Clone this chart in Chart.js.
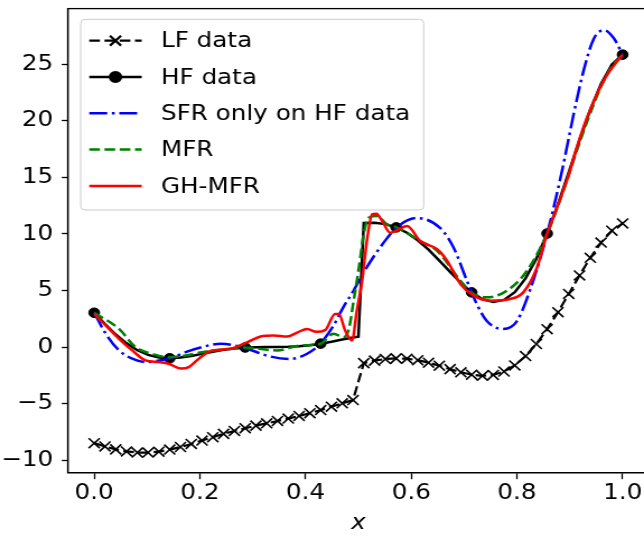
<!DOCTYPE html>
<html>
<head>
<meta charset="utf-8">
<script src="https://cdn.jsdelivr.net/npm/chart.js@4.4.1/dist/chart.umd.min.js"></script>
<style>
  html, body { margin: 0; padding: 0; background: #fff; overflow: hidden; }
  /* the reference picture is wider than it is tall by ~12%, text included */
  #wrap { width: 600px; height: 538px; transform: scaleX(1.12); transform-origin: 0 0; }
</style>
</head>
<body>
<div id="wrap"><canvas id="chart" width="600" height="538"></canvas></div>
<script>
// LF grid (50 samples on [0, 1])
const lfX = [0, 0.0204, 0.0408, 0.0612, 0.0816, 0.1020, 0.1224, 0.1429, 0.1633, 0.1837,
  0.2041, 0.2245, 0.2449, 0.2653, 0.2857, 0.3061, 0.3265, 0.3469, 0.3673, 0.3878,
  0.4082, 0.4286, 0.4490, 0.4694, 0.4898, 0.5102, 0.5306, 0.5510, 0.5714, 0.5918,
  0.6122, 0.6327, 0.6531, 0.6735, 0.6939, 0.7143, 0.7347, 0.7551, 0.7755, 0.7959,
  0.8163, 0.8367, 0.8571, 0.8776, 0.8980, 0.9184, 0.9388, 0.9592, 0.9796, 1.0];
const lfY = [-8.49, -8.78, -9.04, -9.22, -9.32, -9.32, -9.24, -9.06, -8.83, -8.56,
  -8.26, -7.96, -7.67, -7.41, -7.17, -6.94, -6.74, -6.53, -6.32, -6.09,
  -5.84, -5.57, -5.27, -4.97, -4.68, -1.42, -1.20, -1.06, -1.00, -1.03,
  -1.16, -1.38, -1.65, -1.95, -2.23, -2.44, -2.54, -2.46, -2.16, -1.62,
  -0.80, 0.27, 1.58, 3.08, 4.69, 6.33, 7.88, 9.23, 10.28, 10.92];

// HF curve (black line), markers only at the HF samples
const hfLineX = [0, 0.0204, 0.0408, 0.0612, 0.0816, 0.1020, 0.1224, 0.1429, 0.1633, 0.1837,
  0.2041, 0.2245, 0.2449, 0.2653, 0.2857, 0.3061, 0.3265, 0.3469, 0.3673, 0.3878,
  0.4082, 0.4286, 0.4490, 0.4694, 0.4898, 0.5, 0.5102, 0.5306, 0.5510, 0.5714, 0.5918,
  0.6122, 0.6327, 0.6531, 0.6735, 0.6939, 0.7143, 0.7347, 0.7551, 0.7755, 0.7959,
  0.8163, 0.8367, 0.8571, 0.8776, 0.8980, 0.9184, 0.9388, 0.9592, 0.9796, 1.0];
const hfLineY = [3.03, 2.03, 1.11, 0.33, -0.28, -0.69, -0.92, -0.99, -0.93, -0.79,
  -0.60, -0.41, -0.25, -0.12, -0.04, -0.01, 0.00, 0.00, 0.02, 0.07,
  0.16, 0.30, 0.47, 0.66, 0.84, 0.91, 10.96, 10.98, 10.86, 10.57, 10.10,
  9.43, 8.60, 7.64, 6.64, 5.66, 4.83, 4.23, 3.98, 4.16, 4.85,
  6.07, 7.81, 10.03, 12.61, 15.43, 18.29, 20.97, 23.27, 24.96, 25.83];
const hfSampleX = [0, 0.1429, 0.2857, 0.4286, 0.5714, 0.7143, 0.8571, 1.0];

// SFR only on HF data (blue dash-dot)
const sfrX = [0, 0.022, 0.047, 0.072, 0.097, 0.122, 0.145, 0.173, 0.204, 0.24,
  0.286, 0.33, 0.37, 0.403, 0.428, 0.453, 0.47, 0.491, 0.51, 0.529,
  0.554, 0.573, 0.611, 0.655, 0.68, 0.705, 0.724, 0.743, 0.772, 0.8,
  0.831, 0.857, 0.885, 0.907, 0.926, 0.945, 0.965, 0.983, 1.0];
const sfrY = [3.03, 1.17, -0.3, -1.03, -1.33, -1.2, -0.98, -0.45, 0.0, 0.3,
  -0.1, -0.8, -1.05, -0.59, 0.3, 1.9, 3.4, 5.0, 6.6, 8.0,
  9.6, 10.6, 11.4, 10.5, 8.8, 5.9, 3.8, 2.3, 1.6, 2.3,
  5.9, 10.0, 15.5, 20.5, 24.4, 27.2, 28.0, 27.3, 25.83];

// MFR (green dashed)
const mfrX = [0, 0.047, 0.078, 0.104, 0.143, 0.173, 0.204, 0.25, 0.286, 0.346,
  0.39, 0.428, 0.453, 0.472, 0.482, 0.491, 0.501, 0.51, 0.519, 0.535,
  0.554, 0.571, 0.617, 0.649, 0.693, 0.714, 0.743, 0.781, 0.819, 0.857,
  0.878, 0.898, 0.918, 0.939, 0.959, 0.98, 1.0];
const mfrY = [3.03, 1.6, 0.0, -0.53, -0.9, -0.74, -0.45, -0.2, -0.05, -0.3,
  0.14, 0.29, 1.17, 0.87, 1.61, 4.1, 7.03, 9.96, 11.42, 11.57,
  10.84, 10.6, 9.37, 8.5, 5.86, 4.8, 4.39, 4.98, 6.74, 10.0,
  12.5, 15.2, 18.0, 20.7, 23.0, 24.8, 25.83];

// GH-MFR (red solid)
const ghX = [0, 0.022, 0.047, 0.072, 0.097, 0.122, 0.141, 0.164, 0.179, 0.198,
  0.223, 0.258, 0.29, 0.315, 0.34, 0.365, 0.385, 0.403, 0.42, 0.437,
  0.456, 0.463, 0.475, 0.488, 0.497, 0.507, 0.516, 0.526, 0.534, 0.545,
  0.56, 0.57, 0.592, 0.617, 0.649, 0.668, 0.693, 0.718, 0.75, 0.787,
  0.812, 0.838, 0.857, 0.878, 0.898, 0.913, 0.932, 0.951, 0.97, 0.989, 1.0];
const ghY = [2.9, 1.9, 0.73, -0.3, -1.18, -1.33, -1.47, -1.9, -1.77, -1.03,
  -0.3, -0.15, 0.43, 0.93, 1.02, 0.93, 1.3, 1.6, 1.35, 1.5,
  2.93, 2.93, 1.46, 0.58, 3.22, 5.86, 9.37, 11.72, 11.78, 11.13,
  10.1, 10.25, 10.69, 9.37, 8.64, 7.62, 5.57, 4.54, 4.1, 4.25,
  4.83, 7.03, 10.0, 12.6, 15.2, 17.6, 20.2, 22.3, 24.0, 25.2, 25.83];

const xTicks = [0, 0.2, 0.4, 0.6, 0.8, 1.0];
const yTicks = [-10, -5, 0, 5, 10, 15, 20, 25];

const FONT = 'DejaVu Sans';
const LW = 2.5;

function pts(xs, ys) {
  return xs.map((x, i) => ({ x, y: ys[i] }));
}

// matplotlib-like legend box in the upper left, plus the full axes frame
const mplDecor = {
  id: 'mplDecor',
  afterDatasetsDraw(chart) {
    const { ctx, chartArea: a } = chart;
    ctx.save();
    ctx.strokeStyle = '#000';
    ctx.lineWidth = 1.3;
    ctx.strokeRect(a.left, a.top, a.right - a.left, a.bottom - a.top);
    ctx.restore();
  },
  afterDraw(chart) {
    const ctx = chart.ctx;
    const sets = chart.data.datasets;
    const left = 72, top = 19.3, bottom = 210;
    const lineX0 = 79.7, lineX1 = 126.5, textX = 143.7;
    const row0 = 40.7, rowStep = 36.3;

    ctx.save();
    ctx.font = `22px "${FONT}"`;
    const textW = Math.max(...sets.map((d) => ctx.measureText(d.label).width));
    const right = textX + textW + 12;

    const r = 4;
    ctx.beginPath();
    ctx.moveTo(left + r, top);
    ctx.arcTo(right, top, right, bottom, r);
    ctx.arcTo(right, bottom, left, bottom, r);
    ctx.arcTo(left, bottom, left, top, r);
    ctx.arcTo(left, top, right, top, r);
    ctx.closePath();
    ctx.fillStyle = 'rgba(255,255,255,0.8)';
    ctx.fill();
    ctx.strokeStyle = '#cccccc';
    ctx.lineWidth = 1;
    ctx.stroke();

    sets.forEach((d, i) => {
      const y = row0 + i * rowStep;
      ctx.setLineDash(d.borderDash || []);
      ctx.strokeStyle = d.borderColor;
      ctx.lineWidth = d.borderWidth;
      ctx.beginPath();
      ctx.moveTo(lineX0, y);
      ctx.lineTo(lineX1, y);
      ctx.stroke();
      ctx.setLineDash([]);
      if (d.legendMarker) {
        ctx.fillStyle = d.pointBackgroundColor;
        ctx.strokeStyle = d.pointBorderColor;
        Chart.helpers.drawPoint(ctx, {
          pointStyle: d.pointStyle,
          radius: d.legendMarker,
          borderWidth: d.pointBorderWidth,
          rotation: 0,
        }, (lineX0 + lineX1) / 2, y);
      }
      ctx.fillStyle = '#000';
      ctx.textBaseline = 'middle';
      ctx.textAlign = 'left';
      ctx.fillText(d.label, textX, y + 1);
    });
    ctx.restore();
  },
};

const axisTicks = { family: FONT, size: 22 };

new Chart(document.getElementById('chart'), {
  type: 'line',
  data: {
    datasets: [
      {
        label: 'LF data',
        data: pts(lfX, lfY),
        borderColor: '#000',
        borderWidth: 2.2,
        borderDash: [9.5, 4.1],
        tension: 0,
        pointStyle: 'crossRot',
        pointRadius: 7,
        pointBorderWidth: 1.6,
        pointBorderColor: '#000',
        pointBackgroundColor: '#000',
        legendMarker: 7,
        order: 5,
      },
      {
        label: 'HF data',
        data: pts(hfLineX, hfLineY),
        borderColor: '#000',
        borderWidth: LW,
        tension: 0,
        pointStyle: 'circle',
        pointRadius: (c) => (hfSampleX.includes(c.raw.x) ? 4.8 : 0),
        pointBorderWidth: 1,
        pointBorderColor: '#000',
        pointBackgroundColor: '#000',
        legendMarker: 4.8,
        order: 4,
      },
      {
        label: 'SFR only on HF data',
        data: pts(sfrX, sfrY),
        borderColor: '#0000ff',
        borderWidth: LW,
        borderDash: [16, 4.1, 2.6, 4.1],
        tension: 0.4,
        cubicInterpolationMode: 'monotone',
        pointRadius: 0,
        order: 3,
      },
      {
        label: 'MFR',
        data: pts(mfrX, mfrY),
        borderColor: '#008000',
        borderWidth: LW,
        borderDash: [9.5, 4.1],
        tension: 0.4,
        cubicInterpolationMode: 'monotone',
        pointRadius: 0,
        order: 2,
      },
      {
        label: 'GH-MFR',
        data: pts(ghX, ghY),
        borderColor: '#ff0000',
        borderWidth: LW,
        tension: 0.4,
        cubicInterpolationMode: 'monotone',
        pointRadius: 0,
        order: 1,
      },
    ],
  },
  options: {
    responsive: false,
    animation: false,
    events: [],
    layout: { padding: { top: 6.7, right: 20.5, left: 0, bottom: 0 } },
    plugins: { legend: { display: false }, tooltip: { enabled: false } },
    scales: {
      x: {
        type: 'linear',
        min: -0.05,
        max: 1.05,
        afterBuildTicks: (s) => { s.ticks = xTicks.map((v) => ({ value: v })); },
        afterFit: (s) => { s.height = 65.3; s.paddingLeft = 0; s.paddingRight = 0; },
        ticks: {
          callback: (v) => v.toFixed(1),
          font: axisTicks,
          color: '#000',
          padding: 1,
          maxRotation: 0,
          autoSkip: false,
        },
        grid: { drawOnChartArea: false, drawTicks: true, tickLength: 6.5, tickWidth: 1.3, tickColor: '#000' },
        border: { color: '#000', width: 1.3 },
        title: {
          display: true,
          text: 'x',
          color: '#000',
          font: { family: FONT, size: 22, style: 'italic' },
          padding: { top: 0, bottom: 2 },
        },
      },
      y: {
        type: 'linear',
        min: -11.1,
        max: 29.9,
        afterBuildTicks: (s) => { s.ticks = yTicks.map((v) => ({ value: v })); },
        afterFit: (s) => { s.width = 60.5; s.paddingTop = 0; s.paddingBottom = 0; },
        ticks: {
          callback: (v) => String(v).replace('-', '\u2212'),
          font: axisTicks,
          color: '#000',
          padding: 7.5,
          autoSkip: false,
        },
        grid: { drawOnChartArea: false, drawTicks: true, tickLength: 5.4, tickWidth: 1.3, tickColor: '#000' },
        border: { color: '#000', width: 1.3 },
      },
    },
  },
  plugins: [mplDecor],
});
</script>
</body>
</html>
